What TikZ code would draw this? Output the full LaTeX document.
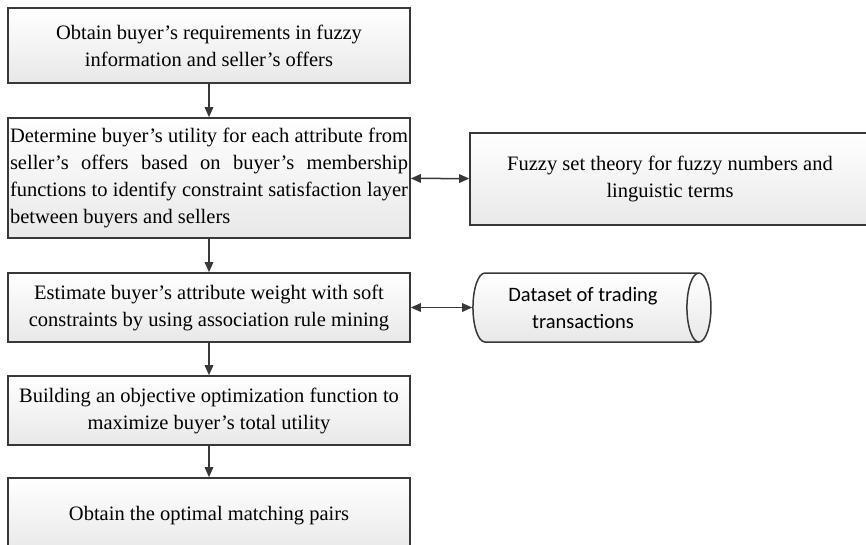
\documentclass[tikz,border=0pt]{standalone}
\usepackage{fontspec}
\setmainfont{Liberation Serif}
\newfontfamily\dbfont{Carlito}
\usetikzlibrary{arrows.meta,positioning,shapes.geometric}
\tikzset{>={Triangle[length=10pt,width=8.5pt]},
    stepbox/.style={draw=black!78, line width=1.6pt, top color=white, bottom color=black!9,
        minimum width=402pt, inner sep=2pt, align=center, font=\fontsize{20.5}{27}\selectfont},
    link/.style={draw=black!78, line width=1.5pt}}

\begin{document}
\begin{tikzpicture}[x=1pt, y=-1pt]
    \clip (0,0) rectangle (866,545);
    \node[stepbox, minimum height=75pt] (s-1) at (209,45.5)
        {Obtain buyer's requirements in fuzzy\\information and seller's offers};
    \node[stepbox, minimum height=120pt, text width=398pt, align=justify, inner sep=0pt] (s-2) at (209,178)
        {Determine buyer's utility for each attribute from\linebreak
         seller's offers based on buyer's membership\linebreak
         functions to identify constraint satisfaction layer\linebreak
         between buyers and sellers};
    \node[stepbox, minimum height=69pt] (s-3) at (209,307.5)
        {Estimate buyer's attribute weight with soft\\constraints by using association rule mining};
    \node[stepbox, minimum height=69pt] (s-4) at (209,410.5)
        {Building an objective optimization function to\\maximize buyer's total utility};
    \node[stepbox, minimum height=75pt] (s-5) at (209,515.5)
        {Obtain the optimal matching pairs};

    \node[stepbox, minimum width=400pt, minimum height=92pt] (fuzzy) at (670,179)
        {Fuzzy set theory for fuzzy numbers and\\linguistic terms};
    \node[cylinder, draw=black!78, line width=1.5pt, top color=white, bottom color=black!9,
        minimum height=238pt, minimum width=69pt, aspect=0.5, align=center,
        font=\dbfont\fontsize{20.5}{27}\selectfont] (db) at (583,307.5)
        {Dataset of trading\\transactions};

    \foreach \i/\j in {1/2,2/3,3/4,4/5} {
        \draw[link, ->] (s-\i) -- (s-\j);
    }
    \draw[link, <->] (s-2) -- (fuzzy);
    \draw[link, <->] (s-3) -- (db);
\end{tikzpicture}
\end{document}
